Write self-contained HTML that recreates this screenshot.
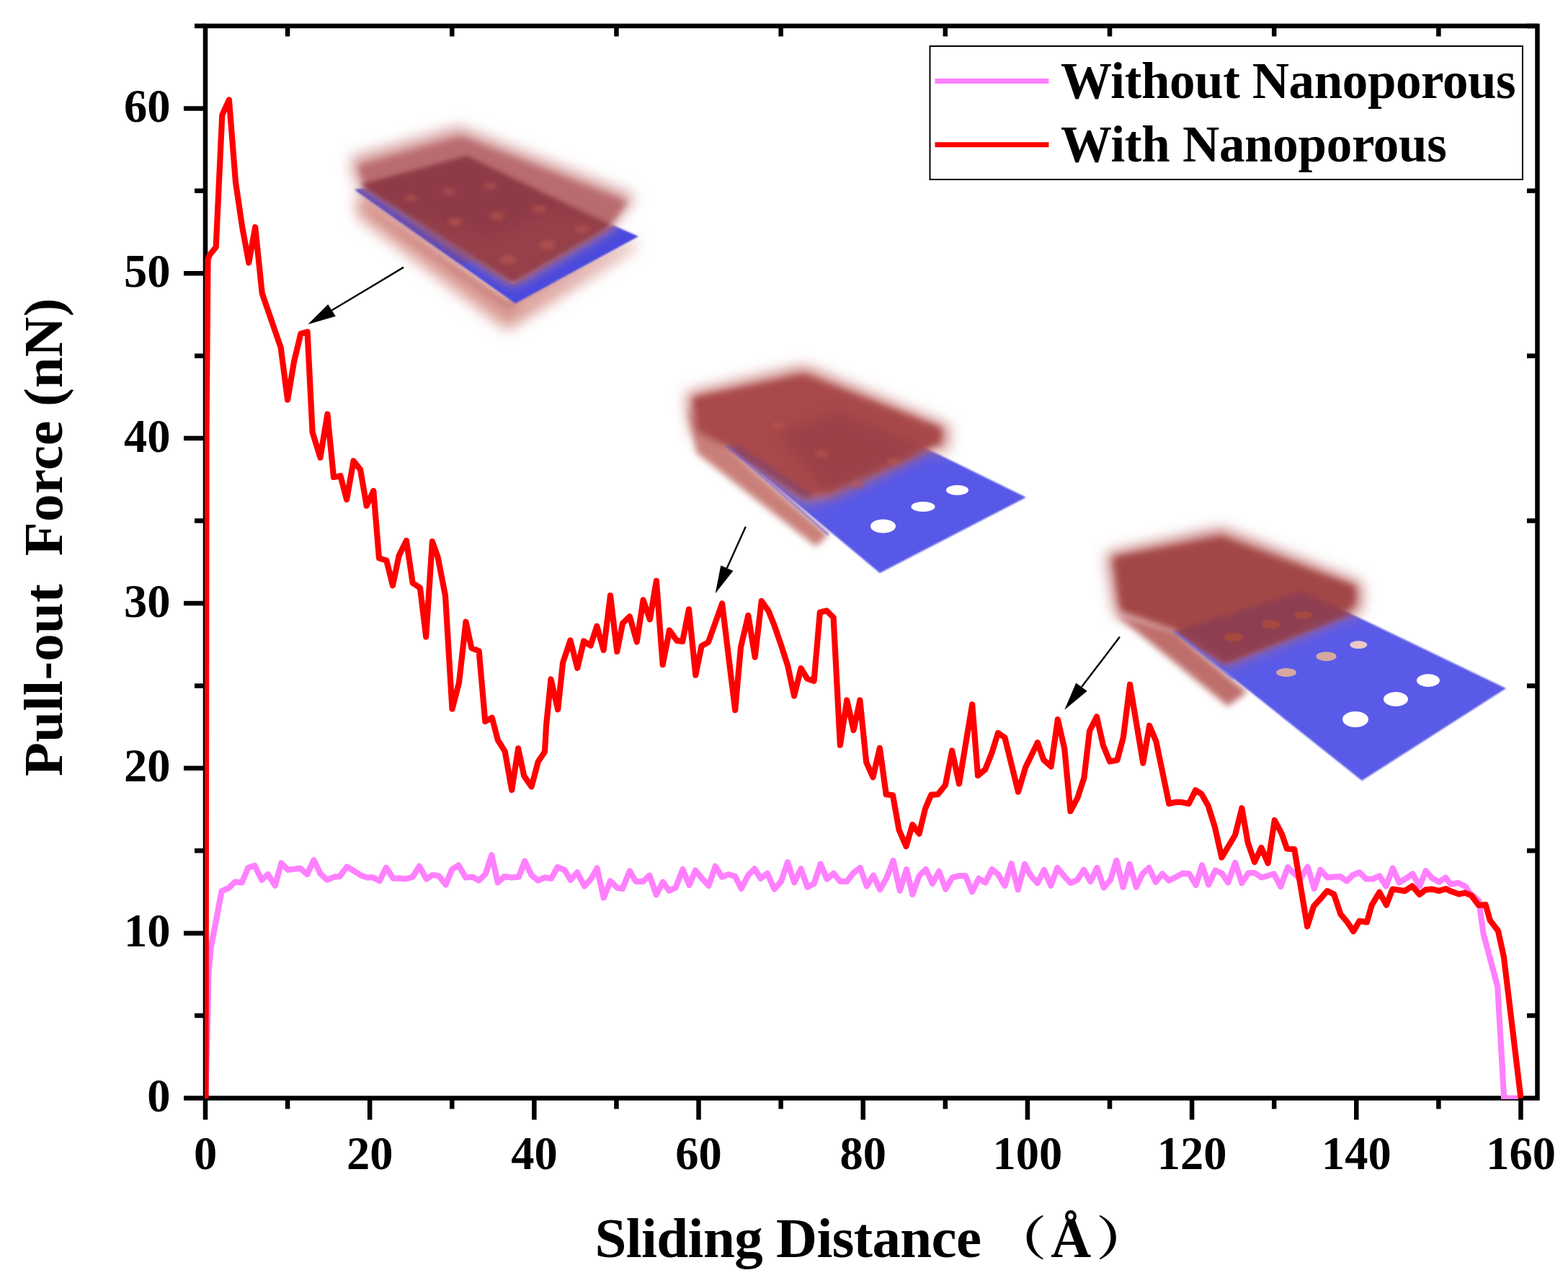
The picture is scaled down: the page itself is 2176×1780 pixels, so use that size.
<!DOCTYPE html>
<html><head><meta charset="utf-8"><title>Pull-out Force vs Sliding Distance</title>
<style>html,body{margin:0;padding:0;background:#fff;width:2176px;height:1780px;overflow:hidden}svg{display:block}</style>
</head><body>
<svg width="2176" height="1780" viewBox="0 0 2176 1780">
<rect width="2176" height="1780" fill="#fff"/>
<defs>
<filter id="b1" x="-20%" y="-20%" width="140%" height="140%"><feGaussianBlur stdDeviation="1.2"/></filter>
<filter id="b3" x="-20%" y="-20%" width="140%" height="140%"><feGaussianBlur stdDeviation="3"/></filter>
<filter id="b5" x="-20%" y="-20%" width="140%" height="140%"><feGaussianBlur stdDeviation="5"/></filter>
<filter id="b7" x="-20%" y="-20%" width="140%" height="140%"><feGaussianBlur stdDeviation="7"/></filter>
<filter id="b10" x="-30%" y="-30%" width="160%" height="160%"><feGaussianBlur stdDeviation="10"/></filter>
</defs>
<!-- inset 1 -->
<g>
<polygon points="494,272 512,268 715,420 880,334 884,342 704,458 496,300" fill="#D99892" filter="url(#b10)"/>
<polygon points="500,285 705,430 870,338 705,418" fill="#C27570" opacity="0.8" filter="url(#b5)"/>
<polygon points="492,263 715,421 886,328 850,312 712,394 512,260" fill="#4A4ADE" filter="url(#b1)"/>
<polygon points="492,263 640,366 660,360 512,262" fill="#6E3E80" opacity="0.5" filter="url(#b3)"/>
<polygon points="637,176 486,219 495,258 512,262 712,394 850,314 882,272" fill="#D19594" filter="url(#b10)"/>
<polygon points="640,190 498,230 506,258 712,392 846,314 870,280" fill="#B96C70" filter="url(#b5)"/>
<polygon points="510,262 712,396 850,314 840,310 712,384 530,262" fill="#6E3E80" opacity="0.6" filter="url(#b3)"/>
<polygon points="648,216 500,256 712,390 846,312" fill="#8F3B46" filter="url(#b3)"/>
<polygon points="560,300 712,390 846,313 780,290 680,330" fill="#A0464E" opacity="0.5" filter="url(#b10)"/>
<g fill="#B85450" opacity="0.75" filter="url(#b3)">
<ellipse cx="570" cy="275" rx="9" ry="4"/><ellipse cx="623" cy="266" rx="9" ry="4"/><ellipse cx="680" cy="258" rx="9" ry="4"/>
<ellipse cx="632" cy="308" rx="10" ry="5"/><ellipse cx="690" cy="300" rx="10" ry="5"/><ellipse cx="748" cy="290" rx="10" ry="5"/>
<ellipse cx="705" cy="360" rx="11" ry="6"/><ellipse cx="760" cy="340" rx="11" ry="6"/><ellipse cx="808" cy="318" rx="11" ry="5"/>
</g>
</g>
<!-- inset 2 -->
<g>
<polygon points="956,566 1009,620 1150,742 1132,758 966,628" fill="#C98078" filter="url(#b5)"/>
<polygon points="1009,618 1139,550 1424,690 1221,795" fill="#5858E8" filter="url(#b1)"/>
<polygon points="1116,508 952,546 960,600 1010,622 1117,697 1150,690 1240,648 1290,622 1313,628 1318,592" fill="#C57A76" filter="url(#b10)"/>
<polygon points="1116,520 962,552 968,598 1012,622 1117,690 1150,684 1240,644 1288,622 1305,614 1306,594" fill="#A84A4C" filter="url(#b5)"/>
<polygon points="1012,622 1117,692 1130,688 1025,618" fill="#7A4070" opacity="0.6" filter="url(#b3)"/>
<polygon points="1165,572 1080,600 1150,686 1240,645 1290,624" fill="#8F3B46" opacity="0.55" filter="url(#b10)"/>
<g fill="#B9574E" opacity="0.8" filter="url(#b3)">
<ellipse cx="1080" cy="590" rx="9" ry="4"/><ellipse cx="1240" cy="640" rx="9" ry="4"/><ellipse cx="1190" cy="672" rx="9" ry="4"/><ellipse cx="1140" cy="630" rx="9" ry="4"/>
</g>
<path d="M1009,618 L1150,742" stroke="#6A5AE0" stroke-width="2.5" opacity="0.7" filter="url(#b1)"/>
<ellipse cx="1328.5" cy="680" rx="15.5" ry="7" fill="#fff"/>
<ellipse cx="1281" cy="703" rx="16.5" ry="7" fill="#fff"/>
<ellipse cx="1225.5" cy="730" rx="17.5" ry="9.5" fill="#fff"/>
</g>
<!-- inset 3 -->
<g>
<polygon points="1548,852 1630,876 1731,960 1704,980" fill="#BE6E6C" filter="url(#b5)"/>
<polygon points="1630,876 1805,818 2090,955 1890,1083" fill="#5A5AE8" filter="url(#b1)"/>
<polygon points="1695,734 1536,768 1549,852 1630,876 1700,922 1771,894 1862,856 1888,849 1890,810" fill="#BC6B69" filter="url(#b10)"/>
<polygon points="1695,746 1546,774 1556,846 1632,874 1700,918 1771,890 1860,852 1878,840 1880,814" fill="#A24646" filter="url(#b5)"/>
<polygon points="1632,876 1805,820 1876,852 1700,920" fill="#8A3C52" opacity="0.8" filter="url(#b3)"/>
<path d="M1630,876 L1712,942" stroke="#6A6AEA" stroke-width="2.5" opacity="0.8" filter="url(#b1)"/>
<ellipse cx="1711.6" cy="884" rx="13" ry="6" fill="#A84A40" filter="url(#b1)"/>
<ellipse cx="1763.6" cy="866" rx="13" ry="6" fill="#A84A40" filter="url(#b1)"/>
<ellipse cx="1808.3" cy="853.4" rx="12" ry="5" fill="#A84A40" filter="url(#b1)"/>
<ellipse cx="1982" cy="944" rx="16" ry="9" fill="#fff"/>
<ellipse cx="1937" cy="970" rx="17" ry="10" fill="#fff"/>
<ellipse cx="1881" cy="998" rx="18" ry="11" fill="#fff"/>
<ellipse cx="1885.3" cy="894.6" rx="12" ry="5.5" fill="#EBC8C4"/>
<ellipse cx="1840.6" cy="910.7" rx="14" ry="6.5" fill="#D5A8A0"/>
<ellipse cx="1785" cy="933" rx="14" ry="6" fill="#D5A8A0"/>
</g>

<rect x="285" y="36" width="1848.5" height="1487.5" fill="none" stroke="#000" stroke-width="6.5"/>
<path d="M255,1523.50H285 M270,1409.08H285 M255,1294.65H285 M270,1180.22H285 M255,1065.80H285 M270,951.38H285 M255,836.95H285 M270,722.53H285 M255,608.10H285 M270,493.68H285 M255,379.25H285 M270,264.83H285 M255,150.40H285 M270,35.98H285 M285.00,1523.5V1553.5 M399.09,1523.5V1538.5 M513.19,1523.5V1553.5 M627.28,1523.5V1538.5 M741.38,1523.5V1553.5 M855.47,1523.5V1538.5 M969.56,1523.5V1553.5 M1083.66,1523.5V1538.5 M1197.75,1523.5V1553.5 M1311.84,1523.5V1538.5 M1425.94,1523.5V1553.5 M1540.03,1523.5V1538.5 M1654.12,1523.5V1553.5 M1768.22,1523.5V1538.5 M1882.31,1523.5V1553.5 M1996.41,1523.5V1538.5 M2110.50,1523.5V1553.5 M399.09,36V50.5 M627.28,36V50.5 M855.47,36V50.5 M1083.66,36V50.5 M1311.84,36V50.5 M1540.03,36V50.5 M1768.22,36V50.5 M1996.41,36V50.5 M2133.5,1409.08H2119 M2133.5,1180.22H2119 M2133.5,951.38H2119 M2133.5,722.53H2119 M2133.5,493.68H2119 M2133.5,264.83H2119 M2133.5,35.98H2119" stroke="#000" stroke-width="6.5" fill="none"/>
<clipPath id="plotclip"><rect x="284" y="37" width="1848" height="1488"/></clipPath>
<polyline points="285.0,1523.5 287.5,1440.0 289.5,1350.0 292.5,1316.0 307.6,1236.3 317.5,1232.0 326.0,1223.6 335.8,1224.3 344.3,1203.8 353.5,1201.0 363.4,1220.8 371.9,1213.0 381.8,1228.6 390.3,1197.5 399.5,1206.7 407.2,1206.0 416.4,1204.5 426.3,1213.0 435.5,1193.2 444.7,1212.3 453.9,1220.8 463.8,1216.6 471.6,1215.8 481.5,1202.4 492.1,1208.8 500.6,1214.4 509.0,1217.3 517.5,1217.3 526.7,1222.2 535.9,1203.8 545.8,1218.7 554.3,1218.7 562.8,1219.4 572.7,1216.7 581.9,1201.8 591.8,1219.5 600.3,1213.8 608.8,1215.2 618.7,1227.3 627.2,1206.1 636.3,1200.4 646.2,1217.4 656.1,1216.7 664.6,1221.6 673.8,1212.4 682.3,1186.3 690.8,1224.4 700.0,1216.0 709.9,1217.4 719.8,1216.7 728.2,1194.7 737.4,1213.8 746.6,1221.6 755.8,1217.4 765.0,1218.8 773.5,1203.2 783.4,1206.8 791.9,1220.9 801.0,1210.3 811.0,1229.4 820.1,1219.5 828.6,1204.6 837.8,1245.6 847.0,1222.3 857.0,1232.2 864.0,1232.9 873.9,1208.2 882.4,1223.0 892.3,1223.0 901.5,1214.5 910.7,1241.4 919.9,1223.7 928.4,1235.7 937.6,1231.5 947.5,1206.1 956.6,1228.0 965.1,1207.5 973.6,1218.1 983.5,1228.7 992.7,1201.8 1001.9,1216.7 1011.1,1213.1 1020.3,1216.0 1028.7,1232.9 1038.6,1213.8 1047.1,1205.3 1055.6,1218.8 1064.8,1211.7 1074.7,1233.6 1083.9,1223.0 1093.1,1196.2 1102.3,1224.4 1111.5,1205.3 1120.6,1230.8 1129.8,1225.8 1138.6,1198.6 1147.7,1219.5 1156.9,1211.7 1166.0,1223.0 1175.2,1223.0 1184.4,1211.0 1193.6,1203.9 1202.8,1229.4 1212.0,1214.5 1221.2,1234.3 1230.4,1218.1 1239.6,1194.0 1248.8,1235.7 1258.0,1206.1 1266.4,1240.7 1275.6,1215.2 1284.8,1206.1 1294.0,1225.8 1303.2,1208.9 1312.4,1233.6 1321.6,1217.4 1330.8,1215.2 1340.0,1215.2 1349.1,1237.2 1358.3,1218.8 1367.5,1224.4 1376.7,1206.1 1385.2,1213.1 1394.4,1228.7 1403.6,1198.3 1412.8,1234.3 1422.0,1199.0 1430.6,1215.2 1439.8,1225.1 1449.0,1206.8 1458.2,1228.7 1467.4,1203.9 1476.6,1215.2 1485.7,1225.1 1494.9,1220.9 1504.1,1206.8 1513.3,1223.0 1522.5,1203.9 1531.7,1231.5 1540.9,1220.9 1549.4,1194.0 1558.6,1230.8 1567.7,1199.0 1576.9,1230.8 1585.4,1212.4 1594.6,1203.9 1603.8,1223.7 1613.0,1212.4 1622.2,1221.6 1632.1,1216.7 1641.3,1211.7 1650.5,1212.4 1659.6,1228.0 1668.1,1200.4 1677.3,1227.3 1686.5,1207.5 1695.7,1211.7 1704.2,1224.4 1714.1,1196.9 1723.4,1225.1 1732.6,1211.0 1741.1,1211.0 1750.3,1217.4 1758.8,1215.2 1768.0,1212.4 1777.2,1230.1 1787.1,1203.2 1796.2,1212.4 1804.7,1219.5 1814.6,1202.5 1823.8,1232.9 1832.3,1206.8 1842.2,1217.4 1851.4,1216.7 1859.9,1216.0 1869.1,1222.3 1877.5,1213.8 1886.7,1210.3 1895.9,1219.5 1905.1,1219.5 1914.3,1215.2 1923.5,1229.4 1932.7,1204.6 1941.9,1224.4 1951.0,1218.8 1960.3,1212.4 1970.1,1229.4 1978.6,1208.2 1987.1,1218.1 1997.0,1223.5 2006.1,1217.6 2013.3,1226.7 2023.7,1224.9 2034.1,1230.1 2039.3,1238.8 2052.5,1250.0 2058.5,1295.0 2078.3,1368.9 2087.2,1523.5 2107.0,1523.5" fill="none" stroke="#FF80FF" stroke-width="8.2" stroke-linejoin="round" stroke-linecap="butt" clip-path="url(#plotclip)"/>
<polyline points="285.5,1523.5 286.5,600.0 288.5,360.0 291.1,353.3 299.7,342.9 308.3,159.6 317.9,138.5 327.0,253.0 336.2,315.2 345.3,364.5 354.2,315.2 363.7,406.9 389.6,482.0 399.1,554.6 408.2,501.0 417.4,463.0 426.6,460.5 433.6,599.5 444.5,634.9 454.4,574.6 463.0,662.0 472.5,660.2 481.1,693.0 490.6,639.5 500.1,651.6 508.7,701.7 518.3,681.0 526.0,774.3 536.4,777.7 545.0,812.3 553.7,770.8 564.0,750.1 572.7,808.8 583.0,815.7 591.2,883.4 599.9,751.2 607.6,772.8 618.0,826.4 627.5,983.6 637.0,947.3 646.5,862.7 654.3,899.0 664.7,903.3 673.3,1000.9 682.8,995.7 690.9,1026.8 700.7,1042.4 710.2,1096.0 719.2,1038.4 727.2,1076.4 737.6,1091.4 746.8,1056.8 756.0,1043.0 758.1,1006.0 764.5,942.4 774.2,984.3 781.1,919.5 791.5,888.4 801.3,926.8 810.1,889.5 819.5,895.7 828.3,868.7 837.6,901.9 847.0,826.2 856.3,904.0 864.1,864.6 873.9,855.3 883.8,890.5 892.6,832.4 901.9,859.4 910.9,805.9 919.7,922.1 929.0,874.4 939.4,888.9 947.2,889.9 956.0,845.3 965.3,936.6 973.6,896.1 983.0,891.0 1002.1,837.3 1020.2,985.2 1028.0,898.1 1038.4,853.8 1047.7,911.6 1056.8,833.8 1066.4,847.3 1074.7,868.1 1084.0,895.0 1093.3,924.1 1102.1,965.5 1111.5,927.2 1120.3,941.7 1129.6,944.8 1137.9,849.4 1147.2,847.3 1156.6,856.7 1165.9,1033.7 1175.3,971.5 1184.6,1013.0 1193.4,971.5 1202.2,1057.5 1211.5,1078.3 1220.9,1037.8 1229.7,1102.1 1239.0,1103.2 1247.6,1151.4 1257.5,1174.2 1266.3,1144.1 1275.6,1156.6 1283.9,1122.4 1292.2,1102.7 1301.5,1102.1 1311.9,1089.2 1321.2,1041.5 1331.0,1087.4 1349.2,977.3 1357.0,1076.0 1367.3,1067.5 1376.7,1043.7 1385.0,1016.9 1394.5,1023.4 1413.0,1098.6 1423.3,1064.4 1439.9,1030.2 1448.2,1054.1 1458.6,1063.4 1467.9,998.1 1477.2,1038.5 1485.5,1125.5 1495.6,1106.3 1504.4,1079.3 1512.1,1014.0 1522.0,994.3 1530.8,1033.7 1540.1,1056.5 1550.5,1054.4 1558.8,1023.3 1568.1,949.7 1586.3,1058.6 1595.1,1006.7 1604.4,1028.5 1622.3,1115.0 1631.1,1112.9 1639.4,1112.9 1649.8,1115.0 1659.1,1096.3 1667.4,1101.5 1676.7,1118.1 1686.1,1148.1 1695.4,1189.6 1714.1,1158.5 1723.4,1121.2 1731.7,1168.9 1741.0,1196.0 1750.4,1176.0 1759.7,1197.5 1768.8,1138.0 1778.7,1156.7 1785.9,1177.4 1796.3,1178.4 1814.2,1285.3 1823.1,1257.3 1832.4,1247.1 1841.7,1236.1 1851.1,1240.4 1860.4,1268.3 1869.7,1279.4 1878.2,1292.1 1886.7,1277.7 1896.9,1279.4 1903.7,1255.6 1914.3,1237.8 1924.0,1255.6 1932.5,1233.6 1941.0,1234.8 1949.5,1236.1 1959.7,1229.3 1970.0,1241.0 1978.6,1234.3 1987.1,1233.6 1997.0,1236.0 2006.4,1233.1 2012.5,1236.2 2024.6,1240.5 2033.2,1238.8 2041.8,1242.2 2052.2,1256.0 2061.7,1255.2 2067.8,1276.8 2079.0,1291.5 2087.0,1328.0 2110.5,1523.5" fill="none" stroke="#FF0000" stroke-width="8.2" stroke-linejoin="round" stroke-linecap="butt" clip-path="url(#plotclip)"/>
<text x="236.6" y="1542.1" text-anchor="end" font-size="64.5" font-family="'Liberation Serif','Times New Roman',serif" font-weight="bold">0</text>
<text x="236.6" y="1313.2" text-anchor="end" font-size="64.5" font-family="'Liberation Serif','Times New Roman',serif" font-weight="bold">10</text>
<text x="236.6" y="1084.4" text-anchor="end" font-size="64.5" font-family="'Liberation Serif','Times New Roman',serif" font-weight="bold">20</text>
<text x="236.6" y="855.6" text-anchor="end" font-size="64.5" font-family="'Liberation Serif','Times New Roman',serif" font-weight="bold">30</text>
<text x="236.6" y="626.7" text-anchor="end" font-size="64.5" font-family="'Liberation Serif','Times New Roman',serif" font-weight="bold">40</text>
<text x="236.6" y="397.9" text-anchor="end" font-size="64.5" font-family="'Liberation Serif','Times New Roman',serif" font-weight="bold">50</text>
<text x="236.6" y="169.0" text-anchor="end" font-size="64.5" font-family="'Liberation Serif','Times New Roman',serif" font-weight="bold">60</text>
<text x="285.0" y="1622" text-anchor="middle" font-size="64.5" font-family="'Liberation Serif','Times New Roman',serif" font-weight="bold">0</text>
<text x="513.2" y="1622" text-anchor="middle" font-size="64.5" font-family="'Liberation Serif','Times New Roman',serif" font-weight="bold">20</text>
<text x="741.4" y="1622" text-anchor="middle" font-size="64.5" font-family="'Liberation Serif','Times New Roman',serif" font-weight="bold">40</text>
<text x="969.6" y="1622" text-anchor="middle" font-size="64.5" font-family="'Liberation Serif','Times New Roman',serif" font-weight="bold">60</text>
<text x="1197.8" y="1622" text-anchor="middle" font-size="64.5" font-family="'Liberation Serif','Times New Roman',serif" font-weight="bold">80</text>
<text x="1425.9" y="1622" text-anchor="middle" font-size="64.5" font-family="'Liberation Serif','Times New Roman',serif" font-weight="bold">100</text>
<text x="1654.1" y="1622" text-anchor="middle" font-size="64.5" font-family="'Liberation Serif','Times New Roman',serif" font-weight="bold">120</text>
<text x="1882.3" y="1622" text-anchor="middle" font-size="64.5" font-family="'Liberation Serif','Times New Roman',serif" font-weight="bold">140</text>
<text x="2110.5" y="1622" text-anchor="middle" font-size="64.5" font-family="'Liberation Serif','Times New Roman',serif" font-weight="bold">160</text>
<text x="825.5" y="1744" font-size="79" textLength="536.6" lengthAdjust="spacing" font-family="'Liberation Serif','Times New Roman',serif" font-weight="bold">Sliding Distance</text>
<text transform="translate(1374.8,1741) scale(1.2,1)" font-size="64.8" font-weight="700" font-family="'Noto Serif CJK SC',serif">（</text>
<text x="1458.3" y="1743.8" font-size="77.5" font-weight="bold" font-family="'Liberation Serif',serif">Å</text>
<text transform="translate(1521,1741) scale(1.2,1)" font-size="64.8" font-weight="700" font-family="'Noto Serif CJK SC',serif">）</text>
<text transform="translate(85.6,1077.1) rotate(-90)" x="0" y="0" font-size="77" textLength="663.4" lengthAdjust="spacing" font-family="'Liberation Serif','Times New Roman',serif" font-weight="bold" xml:space="preserve">Pull-out  Force (nN)</text>
<rect x="1290.5" y="64" width="822.5" height="185" fill="#fff" stroke="#000" stroke-width="2"/>
<path d="M1297.5,112.4H1455.5" stroke="#FF80FF" stroke-width="7"/>
<path d="M1297.5,200.7H1455.5" stroke="#FF0000" stroke-width="7"/>
<text x="1472" y="136.1" font-size="71" textLength="631.7" lengthAdjust="spacing" font-family="'Liberation Serif','Times New Roman',serif" font-weight="bold">Without Nanoporous</text>
<text x="1472" y="223.7" font-size="71" textLength="535.9" lengthAdjust="spacing" font-family="'Liberation Serif','Times New Roman',serif" font-weight="bold">With Nanoporous</text>
<path d="M560.0,370.9L460.5,430.5" stroke="#000" stroke-width="2.4"/><path d="M427.3,450.1L455.2,422.2L465.8,438.8Z" fill="#000"/>
<path d="M1034.8,730.8L1008.8,788.2" stroke="#000" stroke-width="2.4"/><path d="M992.7,823.3L1000.3,784.6L1017.4,791.9Z" fill="#000"/>
<path d="M1554.0,883.5L1501.0,953.1" stroke="#000" stroke-width="2.4"/><path d="M1477.3,984.8L1493.2,947.4L1508.7,958.8Z" fill="#000"/>
</svg>
</body></html>
